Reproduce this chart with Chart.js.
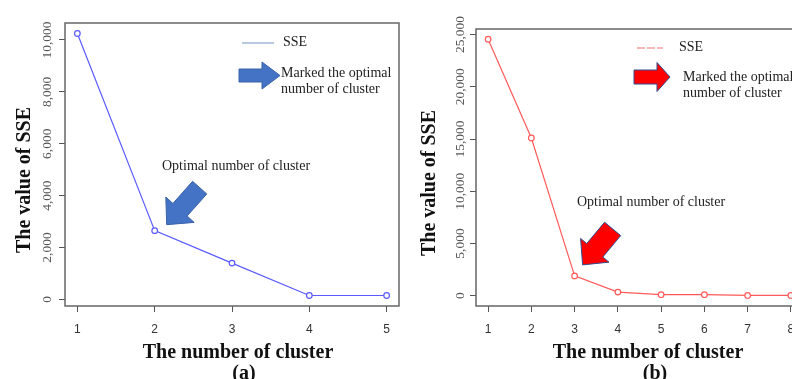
<!DOCTYPE html>
<html lang="en">
<head>
<meta charset="UTF-8">
<title>SSE vs number of clusters</title>
<script src="https://cdn.jsdelivr.net/npm/chart.js"></script>
<style>
  html, body { margin: 0; padding: 0; background: #fff; overflow: hidden; width: 792px; height: 379px; }
  .panel { position: absolute; top: 0; height: 379px; }
  #wrapA { left: 0; width: 400px; }
  #wrapB { left: 400px; width: 420px; }
</style>
</head>
<body>
<div class="panel" id="wrapA"><canvas id="chartA" width="400" height="379"></canvas></div>
<div class="panel" id="wrapB"><canvas id="chartB" width="420" height="379"></canvas></div>

<script>
// panel (a)
const clustersA = [1, 2, 3, 4, 5];
const sseA = [10250, 2650, 1400, 150, 150];
const yTicksA = [0, 2000, 4000, 6000, 8000, 10000];

// panel (b)
const clustersB = [1, 2, 3, 4, 5, 6, 7, 8];
const sseB = [24550, 15100, 1900, 350, 100, 100, 30, 30];
const yTicksB = [0, 5000, 10000, 15000, 20000, 25000];

const SERIF = '"Liberation Serif", "DejaVu Serif", serif';

// block arrow from tail centre to tip
function blockArrow(ctx, x0, y0, x1, y1, shaftW, headW, headL, fill, stroke) {
  const dx = x1 - x0, dy = y1 - y0, len = Math.hypot(dx, dy);
  const ux = dx / len, uy = dy / len, nx = -uy, ny = ux;
  const bx = x1 - ux * headL, by = y1 - uy * headL;
  const pts = [
    [x0 + nx * shaftW / 2, y0 + ny * shaftW / 2],
    [bx + nx * shaftW / 2, by + ny * shaftW / 2],
    [bx + nx * headW / 2, by + ny * headW / 2],
    [x1, y1],
    [bx - nx * headW / 2, by - ny * headW / 2],
    [bx - nx * shaftW / 2, by - ny * shaftW / 2],
    [x0 - nx * shaftW / 2, y0 - ny * shaftW / 2]
  ];
  ctx.beginPath();
  pts.forEach((p, i) => i ? ctx.lineTo(p[0], p[1]) : ctx.moveTo(p[0], p[1]));
  ctx.closePath();
  ctx.fillStyle = fill;
  ctx.fill();
  ctx.lineWidth = 1;
  ctx.strokeStyle = stroke;
  ctx.stroke();
}

const decor = {
  id: 'decor',
  afterDraw(chart, args, o) {
    const ctx = chart.ctx, a = chart.chartArea, ys = chart.scales.y, xs = chart.scales.x;
    ctx.save();

    // R style box
    ctx.strokeStyle = '#666';
    ctx.lineWidth = 1.5;
    ctx.strokeRect(a.left, a.top, a.right - a.left, a.bottom - a.top);

    // rotated y tick labels
    ctx.fillStyle = '#555';
    ctx.font = '13.5px ' + SERIF;
    ctx.textAlign = 'center';
    ctx.textBaseline = 'middle';
    o.yTicks.forEach(v => {
      ctx.save();
      ctx.translate(o.yLabelX, ys.getPixelForValue(v));
      ctx.rotate(-Math.PI / 2);
      ctx.fillText(v.toLocaleString('en-US'), 0, 0);
      ctx.restore();
    });

    // axis titles
    ctx.fillStyle = '#111';
    ctx.font = 'bold 20px ' + SERIF;
    ctx.save();
    ctx.translate(o.yTitle[0], o.yTitle[1]);
    ctx.rotate(-Math.PI / 2);
    ctx.fillText('The value of SSE', 0, 0);
    ctx.restore();
    ctx.fillText('The number of cluster', o.xTitle[0], o.xTitle[1]);
    ctx.fillText(o.tag, o.tagPos[0], o.tagPos[1]);

    // legend
    ctx.strokeStyle = o.legendColor;
    ctx.lineWidth = 1.5;
    ctx.setLineDash(o.legendDash);
    ctx.beginPath();
    ctx.moveTo(o.legend[0], o.legend[2]);
    ctx.lineTo(o.legend[1], o.legend[2]);
    ctx.stroke();
    ctx.setLineDash([]);
    ctx.fillStyle = '#222';
    ctx.font = '14px ' + SERIF;
    ctx.textAlign = 'left';
    ctx.fillText('SSE', o.legend[3], o.legend[4]);

    // marker explanation
    const r = o.rightArrow;
    blockArrow(ctx, r[0], r[1], r[2], r[3], r[4], r[5], r[6], o.arrowFill, o.arrowStroke);
    ctx.fillStyle = '#222';
    ctx.fillText('Marked the optimal', o.markText[0], o.markText[1]);
    ctx.fillText('number of cluster', o.markText[0], o.markText[1] + 16);

    // optimal point arrow, anchored at the data point
    const px = xs.getPixelForValue(o.optimal[0]), py = ys.getPixelForValue(o.optimal[1]);
    const d = o.diagArrow;
    blockArrow(ctx, px + d[0], py + d[1], px + d[2], py + d[3], d[4], d[5], d[6], o.arrowFill, o.arrowStroke);
    ctx.fillStyle = '#222';
    ctx.fillText('Optimal number of cluster', o.optText[0], o.optText[1]);

    ctx.restore();
  }
};

function makeChart(id, xs, ys, yTicks, s) {
  return new Chart(document.getElementById(id), {
    type: 'line',
    data: {
      datasets: [{
        data: xs.map((x, i) => ({ x: x, y: ys[i] })),
        borderColor: s.color,
        borderWidth: 1.2,
        pointRadius: 2.8,
        pointBorderWidth: 1.2,
        pointBorderColor: s.color,
        pointBackgroundColor: '#fff',
        tension: 0
      }]
    },
    options: {
      responsive: false,
      animation: false,
      layout: { autoPadding: false, padding: { top: s.top, right: s.right, left: 0, bottom: 0 } },
      plugins: {
        legend: { display: false },
        tooltip: { enabled: false },
        decor: s.decor
      },
      scales: {
        x: {
          type: 'linear',
          min: s.xMin, max: s.xMax,
          afterBuildTicks: sc => { sc.ticks = xs.map(v => ({ value: v })); },
          afterFit: sc => {
            sc.height = 379 - s.bottom;
            sc.paddingLeft = 0;
            sc.paddingRight = 0;
          },
          grid: { drawOnChartArea: false, tickLength: 6, color: '#555' },
          border: { display: false },
          ticks: {
            color: '#333',
            padding: 10,
            maxRotation: 0,
            font: { family: '"Liberation Sans", Arial, sans-serif', size: 12 }
          }
        },
        y: {
          type: 'linear',
          min: s.yMin, max: s.yMax,
          afterBuildTicks: sc => { sc.ticks = yTicks.map(v => ({ value: v })); },
          afterFit: sc => {
            sc.width = s.left;
            sc.paddingTop = 0;
            sc.paddingBottom = 0;
          },
          grid: { drawOnChartArea: false, tickLength: 6, color: '#555' },
          border: { display: false },
          ticks: { display: false }
        }
      }
    },
    plugins: [decor]
  });
}

makeChart('chartA', clustersA, sseA, yTicksA, {
  color: '#5a5aff',
  left: 65, right: 1, top: 23, bottom: 306,
  xMin: 0.84, xMax: 5.16, yMin: -254, yMax: 10654,
  decor: {
    yTicks: yTicksA, yLabelX: 47,
    yTitle: [25, 180], xTitle: [238, 353], tag: '(a)', tagPos: [244, 374],
    legend: [242, 274, 43, 283, 42], legendColor: '#9fb8d8', legendDash: [],
    rightArrow: [239, 75.5, 280, 75.5, 13, 27, 18],
    markText: [281, 73],
    optimal: [clustersA[1], sseA[1]],
    diagArrow: [45, -43, 12, -6, 19, 38, 20],
    optText: [162, 166],
    arrowFill: '#4472c4', arrowStroke: '#3a62a8'
  }
});

makeChart('chartB', clustersB, sseB, yTicksB, {
  color: '#ff5a5a',
  left: 76, right: 17, top: 29, bottom: 306,
  xMin: 0.72, xMax: 8.28, yMin: -982, yMax: 25532,
  decor: {
    yTicks: yTicksB, yLabelX: 60,
    yTitle: [30, 183], xTitle: [248, 353], tag: '(b)', tagPos: [255, 374],
    legend: [237, 263, 48, 279, 47], legendColor: '#f5a0a0', legendDash: [8, 2],
    rightArrow: [234, 77, 270, 77, 14, 29, 13],
    markText: [283, 77],
    optimal: [clustersB[2], sseB[2]],
    diagArrow: [38, -47, 8, -11, 21, 37, 19],
    optText: [177, 202],
    arrowFill: '#ff0000', arrowStroke: '#2f4f8f'
  }
});
</script>
</body>
</html>
